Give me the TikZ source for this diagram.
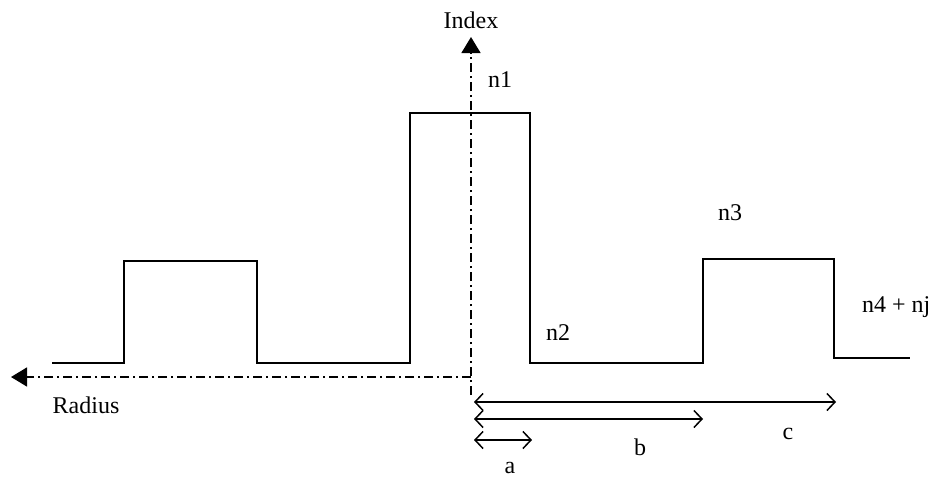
\documentclass[tikz,border=0pt]{standalone}
\usepackage{fontspec}
\setmainfont{Liberation Serif}
\usetikzlibrary{arrows.meta}
\begin{document}
\begin{tikzpicture}[x=1pt,y=-1pt,
  prof/.style={line width=1.8pt,line join=miter},
  axis/.style={line width=1.4pt,dash pattern=on 9pt off 4pt on 2pt off 4pt,-{Triangle[length=16pt,width=19pt]}},
  dim/.style={line width=1.5pt,{Straight Barb[length=8pt,width=17pt]}-{Straight Barb[length=8pt,width=17pt]}},
  lab/.style={font=\fontsize{24}{24}\selectfont,inner sep=0pt}]
\useasboundingbox (0,0) rectangle (948,477);
% profile
\draw[prof] (52,363) -- (124,363) -- (124,261) -- (257,261) -- (257,363) -- (410,363)
  -- (410,113) -- (530,113) -- (530,363) -- (703,363) -- (703,259) -- (834,259)
  -- (834,358) -- (910,358);
% axes
\coordinate (o) at (471,377);
\coordinate (ob) at (471,395);
\coordinate (top) at (471,37);
\coordinate (left) at (11,377);
\draw[axis] (ob) -- (top);
\draw[axis] (o) -- (left);
\node[lab] (index) at (471,20) {Index};
\node[lab] (radius) at (86,405) {Radius};
\node[lab] (n1) at (500,80) {n1};
\node[lab] (n2) at (558,333) {n2};
\node[lab] (n3) at (730,213) {n3};
\node[lab,anchor=west] (n4) at (862,307) {n4 + nj};
% dimensions
\coordinate (c0) at (474,402); \coordinate (c1) at (836,402);
\coordinate (b0) at (474,419); \coordinate (b1) at (703,419);
\coordinate (a0) at (474,440); \coordinate (a1) at (532,440);
\draw[dim] (c0) -- (c1);
\draw[dim] (b0) -- (b1);
\draw[dim] (a0) -- (a1);
\node[lab] (c) at (788,434) {c};
\node[lab] (b) at (640,447) {b};
\node[lab] (a) at (510,468) {a};
\end{tikzpicture}
\end{document}
